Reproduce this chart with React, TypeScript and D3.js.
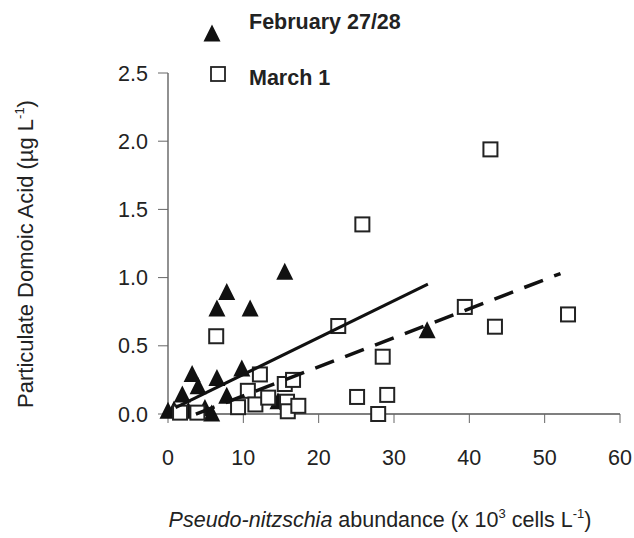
import React from 'react';
import * as d3 from 'd3';

// February 27/28 (filled triangles)
const febX = [0, 0.8, 1.9, 2.7, 3.2, 4.0, 4.9, 5.8, 6.5, 6.5, 7.8, 7.8, 9.8, 10.9, 14.6, 15.5, 34.4];
const febY = [0.02, 0.03, 0.14, 0.02, 0.29, 0.2, 0.04, 0.0, 0.26, 0.77, 0.89, 0.13, 0.33, 0.77, 0.09, 1.04, 0.61];

// March 1 (open squares)
const marX = [1.6, 3.9, 6.4, 9.3, 10.6, 11.6, 12.2, 13.3, 15.5, 15.8, 15.9, 16.6, 17.3, 22.6, 25.1, 25.8, 27.9, 28.5, 29.1, 39.4, 42.8, 43.4, 53.1];
const marY = [0.01, 0.01, 0.57, 0.05, 0.17, 0.07, 0.29, 0.12, 0.22, 0.09, 0.02, 0.25, 0.06, 0.645, 0.125, 1.39, 0.0, 0.42, 0.14, 0.785, 1.94, 0.64, 0.73];

// regression lines: [x0, x1], slope, intercept
const febFitRange = [1.0, 34.5];
const febFit = { slope: 0.027, intercept: 0.02 };
const marFitRange = [3.7, 52.1];
const marFit = { slope: 0.0213, intercept: -0.08 };

const xTicks = [0, 10, 20, 30, 40, 50, 60];
const yTicks = [0, 0.5, 1.0, 1.5, 2.0, 2.5];

const font = '"Liberation Sans", Arial, sans-serif';

export default function App() {
  const x = d3.scaleLinear().domain([0, 60]).range([168, 620]);
  const y = d3.scaleLinear().domain([0, 2.5]).range([414, 73]);

  const tri = (cx: number, cy: number) =>
    `M${cx},${cy - 9.5}L${cx + 8.5},${cy + 7.5}L${cx - 8.5},${cy + 7.5}Z`;

  const febLine = d3.line<number>()
    .x(d => x(d))
    .y(d => y(febFit.slope * d + febFit.intercept));
  const marLine = d3.line<number>()
    .x(d => x(d))
    .y(d => y(marFit.slope * d + marFit.intercept));

  return (
    <svg width={634} height={538} style={{ position: 'absolute', left: 0, top: 0, background: '#fff' }} fontFamily={font}>
      {/* axes */}
      <line x1={x(0)} x2={x(60)} y1={y(0)} y2={y(0)} stroke="#555" strokeWidth={1.3} />
      <line x1={x(0)} x2={x(0)} y1={y(0)} y2={y(2.5)} stroke="#555" strokeWidth={1.3} />
      {xTicks.map(t => (
        <g key={'x' + t}>
          <line x1={x(t)} x2={x(t)} y1={y(0)} y2={y(0) + 9} stroke="#666" strokeWidth={1} />
          <text x={x(t)} y={465} textAnchor="middle" fontSize={21.5} fill="#222">{t}</text>
        </g>
      ))}
      {yTicks.map(t => (
        <g key={'y' + t}>
          <line x1={x(0) - 10} x2={x(0)} y1={y(t)} y2={y(t)} stroke="#666" strokeWidth={1} />
          <text x={148} y={y(t) + 7.5} textAnchor="end" fontSize={21.5} fill="#222">{d3.format('.1f')(t)}</text>
        </g>
      ))}

      {/* Feb triangles */}
      {febX.map((v, i) => (
        <path key={'f' + i} d={tri(x(v), y(febY[i]))} fill="#111" />
      ))}
      {/* March squares */}
      {marX.map((v, i) => (
        <rect key={'m' + i} x={x(v) - 7} y={y(marY[i]) - 7} width={14} height={14} fill="#fff" stroke="#222" strokeWidth={2} />
      ))}

      {/* fits */}
      <path d={febLine(febFitRange) || ''} stroke="#111" strokeWidth={3} fill="none" />
      <path d={marLine(marFitRange) || ''} stroke="#111" strokeWidth={3.5} fill="none" strokeDasharray="20,12" />

      {/* legend */}
      <path d={tri(212, 34)} fill="#111" />
      <text x={249} y={29} fontSize={21.5} fontWeight="bold" fill="#222">February 27/28</text>
      <rect x={211} y={67} width={14} height={14} fill="#fff" stroke="#222" strokeWidth={1.8} />
      <text x={249} y={85} fontSize={21.5} fontWeight="bold" fill="#222">March 1</text>

      {/* axis titles */}
      <text transform="translate(33,254) rotate(-90)" textAnchor="middle" fontSize={22} fill="#222">
        Particulate Domoic Acid (µg L<tspan fontSize={13} dy={-9}>-1</tspan><tspan dy={9}>)</tspan>
      </text>
      <text x={380} y={527} textAnchor="middle" fontSize={21.5} fill="#222">
        <tspan fontStyle="italic">Pseudo-nitzschia</tspan> abundance (x 10<tspan fontSize={13} dy={-9}>3</tspan>
        <tspan dy={9}> cells L</tspan><tspan fontSize={13} dy={-9}>-1</tspan><tspan dy={9}>)</tspan>
      </text>
    </svg>
  );
}
